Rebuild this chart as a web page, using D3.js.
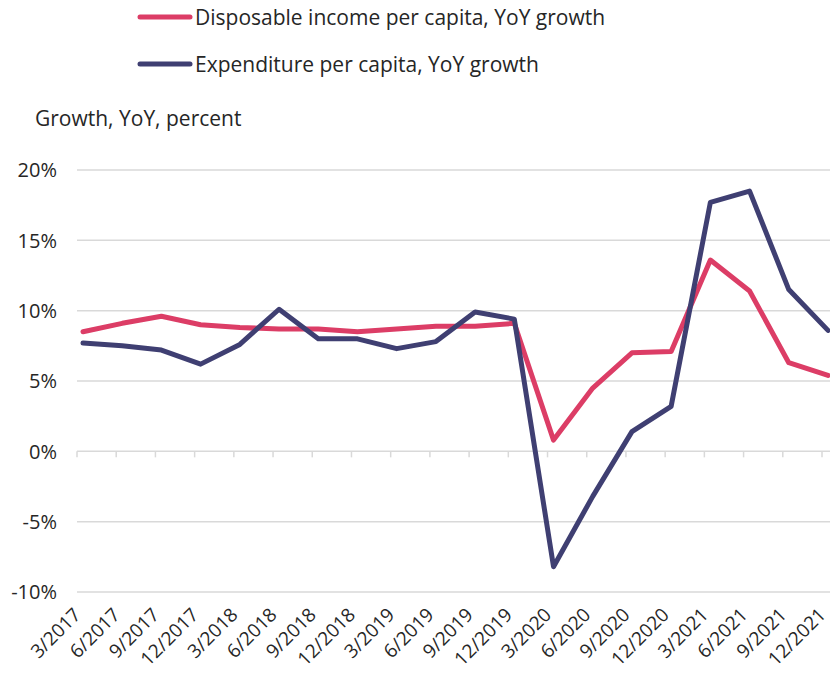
<!DOCTYPE html>
<html>
<head>
<meta charset="utf-8">
<script src="https://cdn.jsdelivr.net/npm/d3@7"></script>
<style>
  body { margin: 0; background: #fff; }
  text { font-family: "Open Sans", sans-serif; fill: #262626; }
</style>
</head>
<body>
<div id="chart"></div>
<script>
const quarters = ["3/2017", "6/2017", "9/2017", "12/2017", "3/2018", "6/2018", "9/2018", "12/2018",
  "3/2019", "6/2019", "9/2019", "12/2019", "3/2020", "6/2020", "9/2020", "12/2020",
  "3/2021", "6/2021", "9/2021", "12/2021"];
const incomeGrowth = [8.5, 9.1, 9.6, 9.0, 8.8, 8.7, 8.7, 8.5, 8.7, 8.9, 8.9, 9.1,
  0.8, 4.5, 7.0, 7.1, 13.6, 11.4, 6.3, 5.4];
const expenditureGrowth = [7.7, 7.5, 7.2, 6.2, 7.6, 10.1, 8.0, 8.0, 7.3, 7.8, 9.9, 9.4,
  -8.2, -3.2, 1.4, 3.2, 17.7, 18.5, 11.5, 8.6];
const yTicks = [-10, -5, 0, 5, 10, 15, 20];

const series = [
  { name: "Disposable income per capita, YoY growth", values: incomeGrowth, color: "#dc3d66" },
  { name: "Expenditure per capita, YoY growth", values: expenditureGrowth, color: "#3f3f72" }
];

const width = 830, height = 680;
const plotLeft = 77, plotRight = 830;

const svg = d3.select("#chart").append("svg")
  .attr("width", width)
  .attr("height", height);

const xScale = d3.scalePoint()
  .domain(quarters)
  .range([83, 828]);

const yScale = d3.scaleLinear()
  .domain([-10, 20])
  .range([592, 170]);

// Gridlines
svg.append("g")
  .selectAll("line")
  .data(yTicks)
  .join("line")
  .attr("x1", plotLeft)
  .attr("x2", plotRight)
  .attr("y1", d => yScale(d))
  .attr("y2", d => yScale(d))
  .attr("stroke", "#d9d9d9")
  .attr("stroke-width", 1.5);

// Y labels
svg.append("g")
  .selectAll("text")
  .data(yTicks)
  .join("text")
  .attr("x", 57)
  .attr("y", d => yScale(d))
  .attr("dy", "0.36em")
  .attr("text-anchor", "end")
  .attr("font-size", "20px")
  .text(d => d + "%");

// Tick marks on the zero line
svg.append("g")
  .selectAll("line")
  .data(quarters)
  .join("line")
  .attr("x1", d => xScale(d) - 6)
  .attr("x2", d => xScale(d) - 6)
  .attr("y1", yScale(0))
  .attr("y2", yScale(0) + 6)
  .attr("stroke", "#d9d9d9")
  .attr("stroke-width", 1.5);

// X labels, rotated
svg.append("g")
  .selectAll("text")
  .data(quarters)
  .join("text")
  .attr("transform", d => `translate(${xScale(d) - 1}, 616) rotate(-45)`)
  .attr("text-anchor", "end")
  .attr("font-size", "19px")
  .text(d => d);

// Lines
const line = d3.line()
  .x((d, i) => xScale(quarters[i]))
  .y(d => yScale(d));

svg.append("g")
  .selectAll("path")
  .data(series)
  .join("path")
  .attr("d", d => line(d.values))
  .attr("fill", "none")
  .attr("stroke", d => d.color)
  .attr("stroke-width", 5)
  .attr("stroke-linejoin", "round")
  .attr("stroke-linecap", "round");

// Legend
const legend = svg.append("g")
  .selectAll("g")
  .data(series)
  .join("g")
  .attr("transform", (d, i) => `translate(0, ${17 + i * 47})`);

legend.append("line")
  .attr("x1", 140)
  .attr("x2", 190)
  .attr("stroke", d => d.color)
  .attr("stroke-width", 5)
  .attr("stroke-linecap", "round");

legend.append("text")
  .attr("x", 195)
  .attr("dy", "0.36em")
  .attr("font-size", "21px")
  .text(d => d.name);

// Axis title
svg.append("text")
  .attr("x", 35)
  .attr("y", 118)
  .attr("dy", "0.36em")
  .attr("font-size", "21px")
  .text("Growth, YoY, percent");
</script>
</body>
</html>
